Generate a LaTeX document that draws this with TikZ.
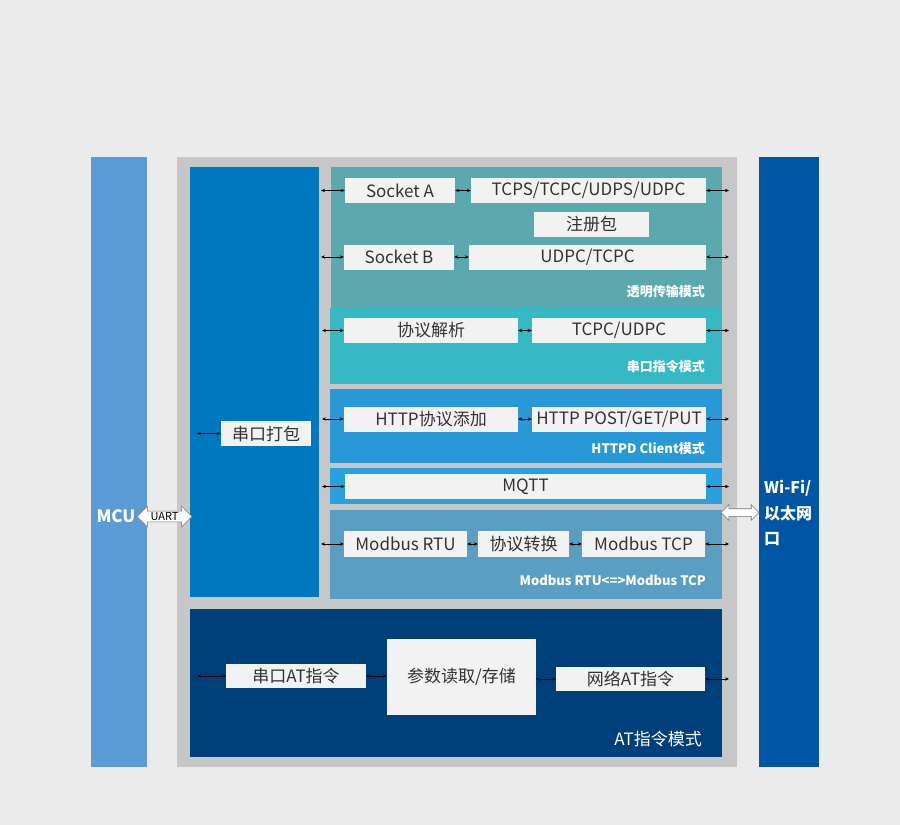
\documentclass[tikz,border=0pt]{standalone}
\usepackage{fontspec}
\setmainfont{Noto Sans CJK SC}
\usepackage{tikz}
\usetikzlibrary{arrows.meta, shapes.arrows, positioning, calc}

\definecolor{bggray}{HTML}{EBEBEB}
\definecolor{framegray}{HTML}{C7C7C7}
\definecolor{mcublue}{HTML}{5B9BD5}
\definecolor{packblue}{HTML}{0078C0}
\definecolor{transteal}{HTML}{5BA9AF}
\definecolor{cmdcyan}{HTML}{35BAC5}
\definecolor{httpblue}{HTML}{2899D6}
\definecolor{mqttblue}{HTML}{27A2DF}
\definecolor{modblue}{HTML}{5A9EC3}
\definecolor{atnavy}{HTML}{00407A}
\definecolor{netblue}{HTML}{0055A5}
\definecolor{boxwhite}{HTML}{F2F2F2}
\definecolor{textdark}{HTML}{333333}

\newcommand{\bxfont}{\fontsize{17}{20}\selectfont}
\newcommand{\tagfont}{\fontsize{13}{16}\selectfont\bfseries}

\tikzset{
  box/.style={fill=boxwhite, text=textdark, minimum height=25pt, inner sep=0pt, font=\bxfont},
  tag/.style={anchor=east, text=white, inner sep=0pt, font=\tagfont},
  link/.style={<->, >={Stealth[length=4pt,width=3.4pt]}, line width=0.7pt, black},
  bigarrow/.style={shape=double arrow, fill=white, draw=black!55, line width=0.6pt,
    double arrow head extend=5pt, inner sep=1pt}
}

\begin{document}
\begin{tikzpicture}[x=1pt,y=-1pt]
\fill[bggray] (0,0) rectangle (900,825);
\useasboundingbox (0,0) rectangle (900,825);

\fill[mcublue] (91,157) rectangle (147,767);
\fill[netblue] (759,157) rectangle (819,767);
\fill[framegray] (177,157) rectangle (737,767);
\fill[packblue] (190,167) rectangle (319,597);
\fill[transteal] (331,167) rectangle (722,308);
\fill[cmdcyan] (330,308) rectangle (722,384);
\fill[httpblue] (330,389) rectangle (722,463);
\fill[mqttblue] (330,468) rectangle (722,504);
\fill[modblue] (330,510) rectangle (722,599);
\fill[atnavy] (190,609) rectangle (722,757);

\node[text=white, inner sep=0pt, font=\fontsize{17}{20}\selectfont\bfseries] (mcu) at (116,516) {MCU};
\node[text=white, inner sep=0pt, anchor=north west, align=left,
  font=\fontsize{16}{25.5}\selectfont\bfseries] (net) at (764,480) {Wi-Fi/\\以太网\\口};

\node[bigarrow, minimum height=55pt, font=\fontsize{11}{12}\selectfont] (uart) at (164.5,516.5) {UART};
\node[bigarrow, minimum height=38pt, minimum width=15pt, inner ysep=3.5pt, double arrow head extend=4pt] (eth) at (740,512.5) {};

% transparent mode
\node[box, minimum width=110pt] (sa) at (400,190.5) {Socket A};
\node[box, minimum width=235pt] (tcps) at (588.5,190.5) {TCPS/TCPC/UDPS/UDPC};
\node[box, minimum width=115pt] (reg) at (591.5,224.5) {注册包};
\node[box, minimum width=110pt] (sb) at (399,257) {Socket B};
\node[box, minimum width=237pt] (udpc) at (587.5,257) {UDPC/TCPC};
\node[tag] (transtag) at (705,292) {透明传输模式};

% serial command mode
\node[box, minimum width=174pt] (parse) at (431,330.5) {协议解析};
\node[box, minimum width=174pt] (tcpc) at (619,330.5) {TCPC/UDPC};
\node[tag] (cmdtag) at (705,367) {串口指令模式};

% httpd client
\node[box, minimum width=174pt] (hadd) at (431,419) {HTTP协议添加};
\node[box, minimum width=174pt] (hpost) at (619,419) {HTTP POST/GET/PUT};
\node[tag] (httptag) at (705,449) {HTTPD Client模式};

\node[box, minimum width=90pt] (pack) at (266,433.5) {串口打包};

% mqtt
\node[box, minimum width=361pt] (mqtt) at (525.5,486.5) {MQTT};

% modbus
\node[box, minimum width=123pt, minimum height=26pt] (rtu) at (405.5,544) {Modbus RTU};
\node[box, minimum width=91pt, minimum height=26pt] (conv) at (523.5,544) {协议转换};
\node[box, minimum width=123pt, minimum height=26pt] (mtcp) at (643.5,544) {Modbus TCP};
\node[tag] (modtag) at (706,580) {Modbus RTU<=>Modbus TCP};

% AT mode
\node[box, minimum width=140pt, minimum height=24pt] (sat) at (296,676) {串口AT指令};
\node[box, minimum width=149pt, minimum height=76pt] (param) at (461.5,677) {参数读取/存储};
\node[box, minimum width=149pt, minimum height=24pt] (nat) at (630.5,679) {网络AT指令};
\node[tag, font=\bxfont] (attag) at (702,739) {AT指令模式};

\coordinate (l1) at (321,190.5);
\coordinate (r1) at (729,190.5);
\coordinate (l2) at (321,257);
\coordinate (r2) at (729,257);
\coordinate (l3) at (322,330.5);
\coordinate (r3) at (729,330.5);
\coordinate (l4) at (322,419);
\coordinate (r4) at (729,419);
\coordinate (l5) at (197,433.5);
\coordinate (l6) at (322,486.5);
\coordinate (r6) at (729,486.5);
\coordinate (l7) at (321,544);
\coordinate (r7) at (729,544);
\coordinate (l8) at (197,676);
\coordinate (r8) at (729,679);

\draw[link] (l1) -- (sa);
\draw[link] (sa) -- (tcps);
\draw[link] (tcps) -- (r1);
\draw[link] (l2) -- (sb);
\draw[link] (sb) -- (udpc);
\draw[link] (udpc) -- (r2);
\draw[link] (l3) -- (parse);
\draw[link] (parse) -- (tcpc);
\draw[link] (tcpc) -- (r3);
\draw[link] (l4) -- (hadd);
\draw[link] (hadd) -- (hpost);
\draw[link] (hpost) -- (r4);
\draw[link] (l5) -- (pack);
\draw[link] (l6) -- (mqtt);
\draw[link] (mqtt) -- (r6);
\draw[link] (l7) -- (rtu);
\draw[link] (rtu) -- (conv);
\draw[link] (conv) -- (mtcp);
\draw[link] (mtcp) -- (r7);
\draw[link] (l8) -- (sat);
\draw[link] (sat.east) -- (sat.east -| param.west);
\draw[link] (param.east |- nat.west) -- (nat.west);
\draw[link] (nat) -- (r8);

\end{tikzpicture}
\end{document}
